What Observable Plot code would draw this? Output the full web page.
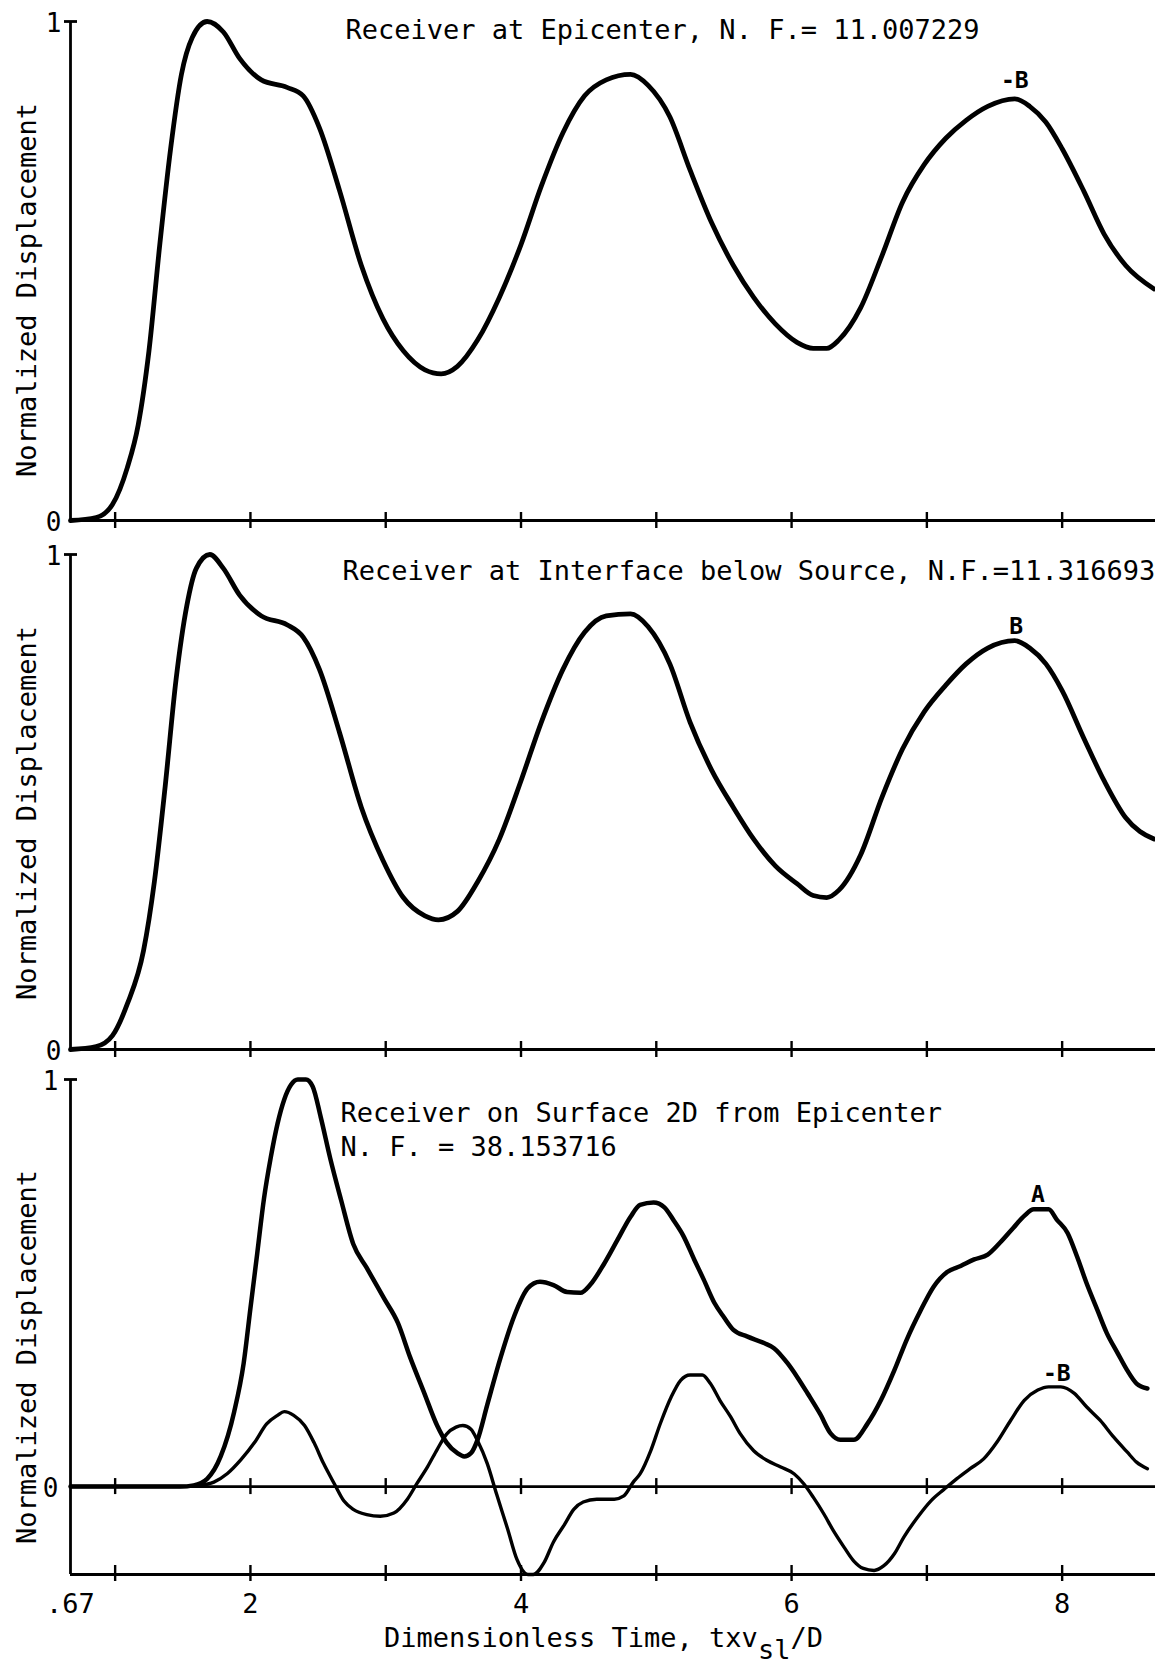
<!DOCTYPE html>
<html>
<head>
<meta charset="utf-8">
<script src="https://cdn.jsdelivr.net/npm/d3@7"></script>
<script src="https://cdn.jsdelivr.net/npm/@observablehq/plot@0.6"></script>
<style>
  body { margin: 0; background: #fff; }
  #fig { position: relative; width: 1155px; height: 1664px; overflow: hidden; background: #fff; color: #000; }
  #fig svg { position: absolute; left: 0; overflow: visible; background: none; }
  .xtitle { position: absolute; left: 384px; top: 1621px; font-family: "DejaVu Sans Mono", monospace; font-size: 27px; line-height: 34px; white-space: nowrap; color: #000; }
  .xtitle sub { font-size: 27px; vertical-align: -12px; line-height: 0; }
</style>
</head>
<body>
<div id="fig"></div>
<script>
// ---------- axes / tick values ----------
const xDomain = [0.67, 8.69];
const xTicks = [1, 2, 3, 4, 5, 6, 7, 8];
const xLabelValues = [0.67, 2, 4, 6, 8];
const xLabelTexts = [".67", "2", "4", "6", "8"];
const yTicks = [0, 1];
const yTitle = "Normalized Displacement";

// ---------- panel titles ----------
const title1 = ["Receiver at Epicenter, N. F.= 11.007229"];
const title2 = ["Receiver at Interface below Source, N.F.=11.316693"];
const title3 = ["Receiver on Surface 2D from Epicenter", "N. F. = 38.153716"];

// ---------- series: [dimensionless time, normalized displacement] ----------
const epicenterB = [
  [0.67,0],[0.86,0.006],[0.98,0.032],[1.09,0.106],[1.17,0.191],[1.25,0.34],[1.33,0.553],
  [1.41,0.745],[1.49,0.894],[1.57,0.968],[1.68,1.0],[1.80,0.979],[1.92,0.926],[2.08,0.883],
  [2.27,0.868],[2.39,0.851],[2.51,0.787],[2.66,0.66],[2.82,0.511],[2.98,0.404],[3.13,0.34],
  [3.29,0.302],[3.41,0.294],[3.53,0.309],[3.68,0.362],[3.84,0.447],[4.00,0.553],[4.15,0.67],
  [4.31,0.777],[4.47,0.851],[4.63,0.883],[4.81,0.894],[4.94,0.872],[5.10,0.809],[5.25,0.702],
  [5.41,0.596],[5.57,0.511],[5.72,0.447],[5.88,0.394],[6.04,0.357],[6.16,0.345],[6.26,0.345],
  [6.35,0.362],[6.51,0.426],[6.67,0.532],[6.82,0.638],[6.98,0.713],[7.14,0.766],[7.29,0.802],
  [7.45,0.83],[7.65,0.845],[7.76,0.83],[7.88,0.798],[8.00,0.745],[8.16,0.66],[8.31,0.574],
  [8.47,0.511],[8.68,0.464]
];
const interfaceB = [
  [0.67,0],[0.86,0.006],[0.98,0.028],[1.09,0.092],[1.21,0.2],[1.29,0.339],[1.37,0.532],
  [1.45,0.747],[1.53,0.897],[1.60,0.972],[1.70,1.0],[1.80,0.972],[1.92,0.918],[2.08,0.876],
  [2.27,0.858],[2.39,0.833],[2.51,0.768],[2.66,0.639],[2.82,0.489],[2.98,0.382],[3.13,0.307],
  [3.29,0.27],[3.39,0.262],[3.53,0.279],[3.68,0.339],[3.84,0.425],[4.00,0.543],[4.15,0.661],
  [4.31,0.768],[4.47,0.843],[4.63,0.876],[4.81,0.88],[4.94,0.854],[5.10,0.779],[5.25,0.661],
  [5.41,0.564],[5.57,0.489],[5.72,0.425],[5.88,0.371],[6.04,0.335],[6.16,0.311],[6.26,0.307],
  [6.35,0.322],[6.51,0.393],[6.67,0.511],[6.82,0.607],[6.98,0.682],[7.14,0.736],[7.29,0.779],
  [7.45,0.811],[7.65,0.826],[7.76,0.811],[7.88,0.779],[8.00,0.725],[8.16,0.629],[8.31,0.543],
  [8.47,0.468],[8.68,0.425]
];
const surfaceA = [
  [0.67,0],[1.48,0],[1.58,0.003],[1.68,0.019],[1.78,0.074],[1.88,0.184],[1.95,0.303],[2.00,0.438],
  [2.05,0.572],[2.10,0.707],[2.15,0.808],[2.20,0.891],[2.25,0.951],[2.30,0.987],[2.35,1.0],
  [2.41,1.0],[2.46,0.983],[2.52,0.907],[2.59,0.806],[2.67,0.704],[2.76,0.596],[2.86,0.537],
  [2.99,0.461],[3.09,0.402],[3.18,0.318],[3.28,0.234],[3.38,0.15],[3.45,0.108],[3.53,0.082],
  [3.58,0.074],[3.63,0.082],[3.68,0.116],[3.75,0.2],[3.85,0.318],[3.95,0.419],[4.05,0.487],
  [4.14,0.503],[4.24,0.495],[4.34,0.478],[4.44,0.476],[4.51,0.495],[4.61,0.545],[4.71,0.604],
  [4.81,0.663],[4.88,0.692],[4.98,0.698],[5.06,0.686],[5.13,0.653],[5.20,0.616],[5.28,0.558],
  [5.35,0.509],[5.43,0.451],[5.50,0.416],[5.57,0.385],[5.67,0.369],[5.80,0.352],[5.87,0.34],
  [5.97,0.303],[6.04,0.27],[6.12,0.228],[6.21,0.179],[6.29,0.13],[6.36,0.115],[6.46,0.115],
  [6.56,0.154],[6.66,0.212],[6.76,0.286],[6.85,0.36],[6.95,0.43],[7.05,0.491],[7.15,0.527],
  [7.25,0.542],[7.35,0.558],[7.45,0.57],[7.54,0.599],[7.64,0.636],[7.72,0.665],[7.79,0.681],
  [7.90,0.681],[7.96,0.656],[8.04,0.623],[8.11,0.565],[8.18,0.5],[8.26,0.434],[8.33,0.377],
  [8.41,0.328],[8.48,0.286],[8.55,0.253],[8.63,0.241]
];
const surfaceMinusB = [
  [0.67,0],[1.48,0],[1.63,0.003],[1.73,0.011],[1.83,0.032],[1.93,0.066],[2.03,0.108],[2.12,0.154],
  [2.20,0.175],[2.25,0.184],[2.32,0.175],[2.40,0.15],[2.47,0.108],[2.54,0.057],[2.62,0.007],
  [2.69,-0.035],[2.76,-0.056],[2.86,-0.069],[2.96,-0.073],[3.06,-0.065],[3.16,-0.031],[3.23,0.007],
  [3.31,0.049],[3.38,0.091],[3.45,0.129],[3.52,0.146],[3.57,0.15],[3.63,0.141],[3.68,0.112],
  [3.75,0.057],[3.82,-0.019],[3.90,-0.103],[3.97,-0.179],[4.05,-0.216],[4.09,-0.216],[4.17,-0.187],
  [4.24,-0.136],[4.32,-0.094],[4.39,-0.056],[4.46,-0.038],[4.56,-0.031],[4.69,-0.031],[4.76,-0.023],
  [4.83,0.011],[4.88,0.031],[4.96,0.089],[5.03,0.155],[5.11,0.22],[5.18,0.261],[5.25,0.274],
  [5.34,0.274],[5.40,0.253],[5.47,0.212],[5.55,0.171],[5.62,0.13],[5.72,0.088],[5.82,0.064],
  [5.92,0.048],[6.02,0.031],[6.09,0.007],[6.16,-0.026],[6.24,-0.068],[6.31,-0.109],[6.39,-0.15],
  [6.46,-0.183],[6.53,-0.201],[6.61,-0.206],[6.68,-0.195],[6.76,-0.165],[6.83,-0.124],[6.93,-0.076],
  [7.03,-0.035],[7.13,-0.006],[7.22,0.019],[7.32,0.044],[7.42,0.068],[7.52,0.11],[7.62,0.163],
  [7.72,0.212],[7.82,0.237],[7.90,0.245],[7.99,0.245],[8.09,0.229],[8.18,0.196],[8.28,0.163],
  [8.38,0.122],[8.48,0.085],[8.55,0.06],[8.63,0.044]
];

// ---------- curve labels: [time, displacement, text] ----------
const notes1 = [[7.65, 0.882, "-B"]];
const notes2 = [[7.66, 0.855, "B"]];
const notes3 = [[7.82, 0.717, "A"], [7.96, 0.278, "-B"]];

const FONT = "DejaVu Sans Mono";

function panel(cfg) {
  const x0 = xDomain[0];
  const marks = [
    Plot.ruleX([x0], {strokeWidth: 2.8}),
    Plot.ruleY([0], {strokeWidth: 2.8}),
    Plot.ruleX(xTicks, {x: d => d, y1: 0, y2: 0, insetTop: -8, insetBottom: -8, strokeWidth: 2.4}),
    Plot.ruleY([1], {y: d => d, x1: x0, x2: x0, insetLeft: -6, insetRight: -7, strokeWidth: 2.8}),
    Plot.text(yTicks, {x: x0, y: d => d, text: d => String(d), textAnchor: "end", lineAnchor: "middle", dx: cfg.yTickDx, dy: 2, fontSize: 26}),
    Plot.text([yTitle], {frameAnchor: "left", text: d => d, rotate: -90, textAnchor: "middle", lineAnchor: "middle", dx: -43, dy: cfg.yTitleDy, fontSize: 27})
  ];
  if (cfg.bottom !== undefined) {
    marks.push(
      Plot.ruleY([cfg.bottom], {strokeWidth: 2.8}),
      Plot.ruleX(xTicks, {x: d => d, y1: cfg.bottom, y2: cfg.bottom, insetTop: -9, insetBottom: -7, strokeWidth: 2.4}),
      Plot.text(xLabelValues, {x: d => d, frameAnchor: "bottom", text: (d, i) => xLabelTexts[i], textAnchor: "middle", lineAnchor: "middle", dy: 30, fontSize: 27})
    );
  }
  cfg.series.forEach(s => {
    marks.push(Plot.line(s.data, {x: d => d[0], y: d => d[1], curve: "monotone-x", strokeWidth: s.width, stroke: "black", strokeLinejoin: "round"}));
  });
  cfg.titles.forEach((t, i) => {
    marks.push(Plot.text([t], {frameAnchor: "top-left", text: d => d, textAnchor: "start", lineAnchor: "middle", dx: cfg.titleDx, dy: cfg.titleDy + i * 34, fontSize: 27}));
  });
  marks.push(Plot.text(cfg.notes, {x: d => d[0], y: d => d[1], text: d => d[2], lineAnchor: "middle", fontSize: 23, fontWeight: 600}));

  const svg = Plot.plot({
    width: 1155,
    height: cfg.height,
    marginLeft: 70,
    marginRight: 0,
    marginTop: cfg.marginTop,
    marginBottom: cfg.marginBottom,
    x: {domain: xDomain, axis: null},
    y: {domain: cfg.yDomain, axis: null},
    style: {fontFamily: FONT, fontSize: "26px", color: "black", background: "none", overflow: "visible"},
    marks
  });
  svg.style.top = cfg.top + "px";
  return svg;
}

const fig = document.getElementById("fig");
fig.appendChild(panel({
  top: 0, height: 545, marginTop: 21, marginBottom: 25, yDomain: [0, 1],
  series: [{data: epicenterB, width: 4.8}],
  titles: title1, titleDx: 275, titleDy: 9, notes: notes1, yTitleDy: 19, yTickDx: -9
}));
fig.appendChild(panel({
  top: 545, height: 530, marginTop: 9, marginBottom: 26, yDomain: [0, 1],
  series: [{data: interfaceB, width: 4.8}],
  titles: title2, titleDx: 272, titleDy: 17, notes: notes2, yTitleDy: 11, yTickDx: -9
}));
fig.appendChild(panel({
  top: 1075, height: 589, marginTop: 4, marginBottom: 90, yDomain: [-0.216, 1], bottom: -0.216,
  series: [{data: surfaceA, width: 4.5}, {data: surfaceMinusB, width: 3.4}],
  titles: title3, titleDx: 270, titleDy: 34, notes: notes3, yTitleDy: 30, yTickDx: -12
}));

const xt = document.createElement("div");
xt.className = "xtitle";
xt.innerHTML = "Dimensionless Time, txv<sub>sl</sub>/D";
fig.appendChild(xt);
</script>
</body>
</html>
